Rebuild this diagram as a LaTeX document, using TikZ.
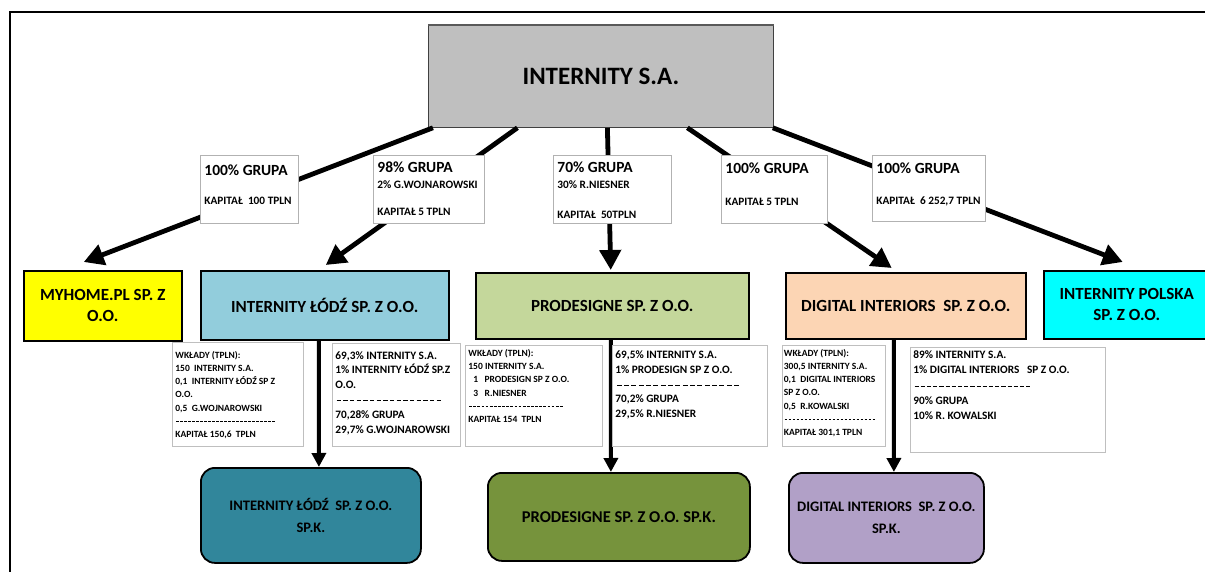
\documentclass[tikz,border=0pt]{standalone}
\usepackage{fontspec}
\setmainfont{Carlito}
\usepackage{tikz}
\usetikzlibrary{arrows.meta, calc}
\definecolor{TopGray}{HTML}{BFBFBF}
\definecolor{MhYellow}{HTML}{FFFF00}
\definecolor{LodzBlue}{HTML}{92CDDC}
\definecolor{ProdGreen}{HTML}{C4D79B}
\definecolor{DigiPeach}{HTML}{FCD5B4}
\definecolor{PolCyan}{HTML}{00FFFF}
\definecolor{LodzTeal}{HTML}{31869B}
\definecolor{ProdOlive}{HTML}{76933C}
\definecolor{DigiLilac}{HTML}{B1A0C7}
\newcommand{\grpfont}{\fontsize{15.5}{12}\selectfont}
\newcommand{\capfont}{\fontsize{11.3}{12}\selectfont}
\newcommand{\wkfont}{\fontsize{9.5}{13.2}\selectfont}
\newcommand{\shfont}{\fontsize{11.3}{14.8}\selectfont}
\newcommand{\cellbox}[3]{\parbox[c][#2][t]{#1}{\raggedright #3}}
\newcommand{\dashrow}[2]{\leavevmode\hbox to #1{\xleaders\hbox to #2{\hss\rule[2.6pt]{\dimexpr #2*7/10\relax}{0.7pt}\hss}\hfill}}

\begin{document}
\begin{tikzpicture}[x=1pt, y=-1pt,
    firm/.style={draw, line width=1.5pt, anchor=north west, align=center, inner sep=2pt, font=\bfseries\fontsize{17}{21}\selectfont},
    spk/.style={firm, rounded corners=14pt, line width=1.8pt, font=\bfseries\fontsize{14.5}{22}\selectfont},
    lbl/.style={draw=black!30, line width=0.8pt, fill=white, anchor=north west, inner sep=4pt, font=\bfseries},
    info/.style={draw=black!25, line width=0.8pt, fill=white, anchor=north west, inner sep=3pt, font=\bfseries},
    link/.style={line width=4.8pt, -{Triangle[length=20pt,width=21pt]}},
    drop/.style={line width=4pt, -{Triangle[length=14pt,width=14pt]}}]
    \useasboundingbox (0,0) rectangle (1205,572);
    % Marco
    \draw[line width=1.6pt] (10,572) -- (10,12) -- (1205,12);

    % Nodos
    \node[draw=black!75, line width=0.8pt, fill=TopGray, anchor=north west, minimum width=345pt, minimum height=102pt, font=\bfseries\fontsize{25}{28}\selectfont] (top) at (428,25) {INTERNITY S.A.};
    \draw[black!65, line width=1.8pt] (top.north west) -- (top.north east);
    \node[firm, fill=MhYellow, minimum width=158pt, minimum height=70pt] (myhome) at (23,270) {MYHOME.PL SP. Z\\O.O.};
    \node[firm, fill=LodzBlue, minimum width=248pt, minimum height=69pt] (lodz) at (200,270) {INTERNITY ŁÓDŹ SP. Z O.O.};
    \node[firm, fill=ProdGreen, minimum width=273pt, minimum height=66pt] (prod) at (475,272) {PRODESIGNE SP. Z O.O.};
    \node[firm, fill=DigiPeach, minimum width=240pt, minimum height=66pt] (digi) at (785,272) {DIGITAL INTERIORS\ \ SP. Z O.O.};
    \node[firm, fill=PolCyan, minimum width=166pt, minimum height=68pt] (polska) at (1043,270) {INTERNITY POLSKA\\SP. Z O.O.};
    \node[spk, fill=LodzTeal, minimum width=220pt, minimum height=95pt] (lodzk) at (200,467) {INTERNITY ŁÓDŹ\ \ SP. Z O.O.\\SP.K.};
    \node[spk, fill=ProdOlive, minimum width=262pt, minimum height=88pt, font=\bfseries\fontsize{16.5}{22}\selectfont] (prodk) at (487,472) {PRODESIGNE SP. Z O.O. SP.K.};
    \node[spk, fill=DigiLilac, minimum width=195pt, minimum height=90pt] (digik) at (788,472) {DIGITAL INTERIORS\ \ SP. Z O.O.\\SP.K.};

    % Conexiones
    \draw[link] ([xshift=-168pt]top.south) -- ([xshift=-19pt,yshift=8pt]myhome.north);
    \draw[link] ([xshift=-83.5pt]top.south) -- ([xshift=1pt,yshift=5pt]lodz.north);
    \draw[link] ([xshift=6.5pt]top.south) -- ([xshift=-1.5pt,yshift=2pt]prod.north);
    \draw[link] ([xshift=86.5pt]top.south) -- ([xshift=-14pt,yshift=4pt]digi.north);
    \draw[link] ([xshift=-1pt]top.south east) -- ([xshift=-4pt,yshift=8pt]polska.north);
    \draw[drop] ([xshift=-6pt]lodz.south) -- ([xshift=8pt]lodzk.north);
    \draw[drop] ([xshift=-1.5pt]prod.south) -- ([xshift=-8pt]prodk.north);
    \draw[drop] ([xshift=-12pt]digi.south) -- ([xshift=7.5pt]digik.north);

    % Etiquetas
    \node[lbl, minimum width=98pt, minimum height=68pt] (g1) at (200,155) {\cellbox{90pt}{60pt}{\vspace*{5pt}\grpfont 100\% GRUPA\\[17.7pt]\capfont KAPITAŁ\ \ 100 TPLN}};
    \node[lbl, minimum width=111pt, minimum height=68pt] (g2) at (373,155) {\cellbox{103pt}{60pt}{\vspace*{2pt}\grpfont 98\% GRUPA\\[4.7pt]\capfont 2\% G.WOJNAROWSKI\\[15pt]KAPITAŁ 5 TPLN}};
    \node[lbl, minimum width=118pt, minimum height=68pt] (g3) at (553,155) {\cellbox{110pt}{60pt}{\vspace*{2pt}\grpfont 70\% GRUPA\\[4.7pt]\capfont 30\% R.NIESNER\\[18pt]KAPITAŁ\ \ 50TPLN}};
    \node[lbl, minimum width=106pt, minimum height=68pt] (g4) at (721,155) {\cellbox{98pt}{60pt}{\vspace*{3pt}\grpfont 100\% GRUPA\\[20.7pt]\capfont KAPITAŁ 5 TPLN}};
    \node[lbl, minimum width=113pt, minimum height=66pt] (g5) at (872,155) {\cellbox{105pt}{58pt}{\vspace*{3pt}\grpfont 100\% GRUPA\\[19.7pt]\capfont KAPITAŁ\ \ 6 252,7 TPLN}};

    \node[info, minimum width=131pt, minimum height=104pt] (wlodz) at (172,342) {\cellbox{125pt}{98pt}{\wkfont\vspace*{5.8pt}WKŁADY (TPLN):\\150\ \ INTERNITY S.A.\\0,1\ \ INTERNITY ŁÓDŹ SP Z\\O.O.\\0,5\ \ G.WOJNAROWSKI\\\dashrow{100pt}{4pt}\\KAPITAŁ 150,6\ \ TPLN}};
    \node[info, minimum width=128pt, minimum height=103pt] (slodz) at (332,343) {\cellbox{122pt}{97pt}{\shfont\vspace*{5pt}69,3\% INTERNITY S.A.\\1\% INTERNITY ŁÓDŹ SP.Z\\O.O.\\\dashrow{107pt}{6.3pt}\\70,28\% GRUPA\\29,7\% G.WOJNAROWSKI}};
    \node[info, minimum width=137pt, minimum height=101pt] (wprod) at (465,345) {\cellbox{131pt}{95pt}{\wkfont\vspace*{1pt}WKŁADY (TPLN):\\150 INTERNITY S.A.\\\hspace*{5pt}1\ \ \ PRODESIGN SP Z O.O.\\\hspace*{5pt}3\ \ \ R.NIESNER\\\dashrow{95pt}{4pt}\\KAPITAŁ 154\ \ TPLN}};
    \node[info, minimum width=155pt, minimum height=101pt] (sprod) at (612,345) {\cellbox{149pt}{95pt}{\fontsize{11.3}{14.8}\selectfont\vspace*{2.4pt}69,5\% INTERNITY S.A.\\1\% PRODESIGN SP Z O.O.\\\dashrow{125pt}{7pt}\\70,2\% GRUPA\\29,5\% R.NIESNER}};
    \node[info, inner xsep=1.5pt, minimum width=103pt, minimum height=101pt] (wdigi) at (782,345) {\cellbox{100pt}{95pt}{\wkfont\vspace*{0.8pt}WKŁADY (TPLN):\\300,5\ INTERNITY S.A.\\0,1\ \ DIGITAL INTERIORS\\SP Z O.O.\\0,5\ \ R.KOWALSKI\\\dashrow{92pt}{4pt}\\KAPITAŁ 301,1 TPLN}};
    \node[info, minimum width=195pt, minimum height=105pt] (sdigi) at (910,347) {\cellbox{189pt}{99pt}{\fontsize{11.3}{15.2}\selectfont\vspace*{0.4pt}89\% INTERNITY S.A.\\1\% DIGITAL INTERIORS\ \ \ SP Z O.O.\\\dashrow{118pt}{6pt}\\90\% GRUPA\\10\% R. KOWALSKI}};
\end{tikzpicture}
\end{document}
